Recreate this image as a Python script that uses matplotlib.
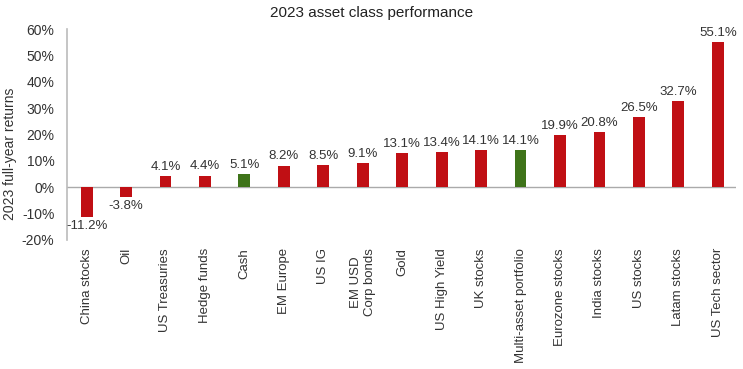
import matplotlib.pyplot as plt
from matplotlib.ticker import FuncFormatter

# Data
categories = ['China stocks', 'Oil', 'US Treasuries', 'Hedge funds', 'Cash',
              'EM Europe', 'US IG', 'EM USD\nCorp bonds', 'Gold', 'US High Yield',
              'UK stocks', 'Multi-asset portfolio', 'Eurozone stocks',
              'India stocks', 'US stocks', 'Latam stocks', 'US Tech sector']
returns = [-11.2, -3.8, 4.1, 4.4, 5.1, 8.2, 8.5, 9.1, 13.1, 13.4, 14.1, 14.1,
           19.9, 20.8, 26.5, 32.7, 55.1]
highlight = ['Cash', 'Multi-asset portfolio']

RED = '#C00F14'
GREEN = '#3E7319'

plt.rcParams['font.family'] = ['Liberation Sans', 'DejaVu Sans']

fig = plt.figure(figsize=(7.43, 3.69), dpi=100)
ax = fig.add_axes([0.090, 0.350, 0.900, 0.571])

x = list(range(len(categories)))
colors = [GREEN if c in highlight else RED for c in categories]
ax.bar(x, returns, width=0.3, color=colors, zorder=2)

# value labels
for xi, v in zip(x, returns):
    if v >= 0:
        ax.text(xi, v + 1.2, f'{v:.1f}%', ha='center', va='bottom',
                fontsize=9.5, color='#333333')
    else:
        ax.text(xi, v - 1.2, f'{v:.1f}%', ha='center', va='top',
                fontsize=9.5, color='#333333')

ax.axhline(0, color='#aaaaaa', linewidth=1, zorder=1)
ax.set_ylim(-20, 60)
ax.set_xlim(-0.5, 16.45)
ax.set_yticks(range(-20, 61, 10))
ax.yaxis.set_major_formatter(FuncFormatter(lambda v, p: f'{v:.0f}%'))
ax.tick_params(axis='y', length=0, labelsize=10, pad=9, colors='#333333')

ax.set_xticks(x)
ax.set_xticklabels(categories, rotation=90, fontsize=9.5, color='#333333',
                   ha='center', va='top', multialignment='center')
ax.tick_params(axis='x', length=0, pad=6)

for s in ['top', 'right', 'bottom']:
    ax.spines[s].set_visible(False)
ax.spines['left'].set_color('#bbbbbb')
ax.spines['left'].set_linewidth(1.2)

ax.set_ylabel('2023 full-year returns', fontsize=10, color='#333333')
ax.yaxis.set_label_coords(-0.074, 0.41)
fig.suptitle('2023 asset class performance', fontsize=11, x=0.5, y=0.985,
             color='#222222')

fig.savefig('out.png', dpi=100)
